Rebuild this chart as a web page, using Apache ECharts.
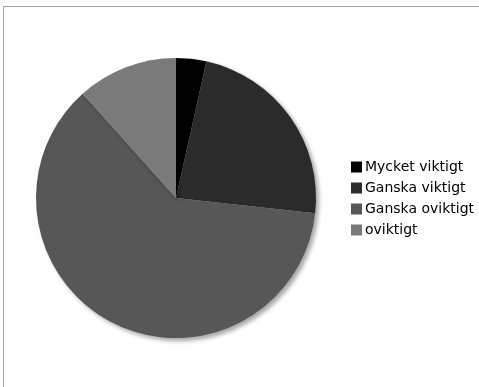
<!DOCTYPE html>
<html>
<head>
<meta charset="utf-8">
<script src="https://cdn.jsdelivr.net/npm/echarts@6/dist/echarts.min.js"></script>
<style>
  html, body { margin: 0; padding: 0; background: #fff; overflow: hidden; }
  #frame { position: absolute; left: 3px; top: 6px; width: 600px; height: 500px;
           border-left: 1px solid #a6a6a6; border-top: 1px solid #a6a6a6; }
  #chart { position: absolute; left: 0; top: 0; width: 479px; height: 387px; }
</style>
</head>
<body>
<div id="frame"></div>
<div id="chart"></div>
<script>
// Answer categories and response counts
const categories = ['Mycket viktigt', 'Ganska viktigt', 'Ganska oviktigt', 'oviktigt'];
const counts = [3, 20, 53, 10];
const sliceColors = ['#000000', '#2b2b2b', '#575757', '#7a7a7a'];

const chart = echarts.init(document.getElementById('chart'), null, { renderer: 'canvas' });

chart.setOption({
  animation: false,
  color: sliceColors,
  legend: {
    orient: 'vertical',
    left: 351,
    top: 160,
    padding: 0,
    itemWidth: 11,
    itemHeight: 11,
    itemGap: 7,
    icon: 'rect',
    textStyle: { fontFamily: 'DejaVu Sans', fontSize: 14, color: '#000', padding: [0, 0, 0, -2] },
    data: categories
  },
  series: [{
    type: 'pie',
    center: [176, 198],
    radius: 140,
    startAngle: 90,
    clockwise: true,
    label: { show: false },
    labelLine: { show: false },
    emphasis: { disabled: true },
    itemStyle: {
      borderWidth: 0,
      shadowColor: 'rgba(0,0,0,0.35)',
      shadowBlur: 4,
      shadowOffsetX: 3,
      shadowOffsetY: 3
    },
    data: categories.map((name, i) => ({ name, value: counts[i] }))
  }]
});
</script>
</body>
</html>
